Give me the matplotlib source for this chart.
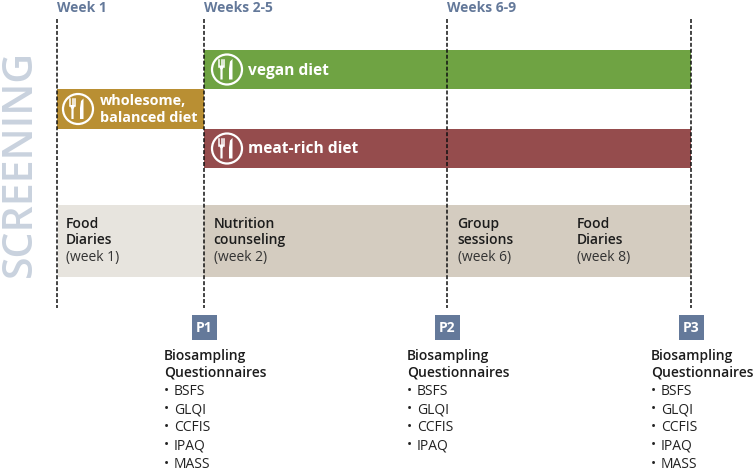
import matplotlib
matplotlib.use("Agg")
import matplotlib.pyplot as plt
from matplotlib.patches import Rectangle, Circle, Polygon

plt.rcParams['font.family'] = ['Open Sans', 'DejaVu Sans']

W, H = 755, 471
week_x = [57, 204, 447, 691]
week_labels = ["Week 1", "Weeks 2-5", "Weeks 6-9"]
week_label_x = [57, 204.5, 447]

diet_lines = [["vegan diet"], ["wholesome,", "balanced diet"], ["meat-rich diet"]]
diet_baselines = [[75], [105, 121.7], [153.3]]
diet_sizes = [11.2, 10.4, 11.2]
diet_x0 = [204, 57, 204]
diet_x1 = [691, 204, 691]
diet_y0 = [50, 89, 129]
diet_y1 = [89, 129, 168]
diet_colors = ["#6fa343", "#b98f33", "#954c4d"]
diet_icon_x = [227, 78, 227]
diet_text_x = [248, 99.5, 248]

activity_head = ["Food\nDiaries", "Nutrition\ncounseling", "Group\nsessions", "Food\nDiaries"]
activity_week = ["(week 1)", "(week 2)", "(week 6)", "(week 8)"]
activity_x = [66, 213.5, 457.5, 577]

point_labels = ["P1", "P2", "P3"]
point_x = [204, 447, 691]
point_lists = [["BSFS", "GLQI", "CCFIS", "IPAQ", "MASS"],
               ["BSFS", "GLQI", "CCFIS", "IPAQ"],
               ["BSFS", "GLQI", "CCFIS", "IPAQ", "MASS"]]

blue = "#64799a"
fig = plt.figure(figsize=(W / 100, H / 100), dpi=100)
ax = fig.add_axes([0, 0, 1, 1])
ax.set_xlim(0, W)
ax.set_ylim(H, 0)
ax.axis("off")

ax.add_patch(Rectangle((58, 205), 146, 72, fc="#e7e4de", ec="none", zorder=1))
ax.add_patch(Rectangle((204, 205), 487, 72, fc="#d4ccc0", ec="none", zorder=1))

for x0, x1, y0, y1, c in zip(diet_x0, diet_x1, diet_y0, diet_y1, diet_colors):
    ax.add_patch(Rectangle((x0, y0), x1 - x0, y1 - y0, fc=c, ec="none", zorder=2))

for x in week_x:
    ax.plot([x, x], [19, 308], color="#111111", lw=1.1, dashes=(2.6, 1.3), zorder=3)

for x, s in zip(week_label_x, week_labels):
    ax.text(x, 12, s, color=blue, fontsize=10, fontweight="bold", va="baseline", ha="left")

ax.text(20, 163.5, "SCREENING", color="#c9d2de", fontsize=29.5, rotation=90,
        ha="center", va="center", fontweight="semibold")


def icon(cx, cy):
    ax.add_patch(Circle((cx, cy), 15, fc="none", ec="white", lw=1.6, zorder=4))
    for dx in (-7.8, -5.5, -3.2):
        ax.plot([cx + dx, cx + dx], [cy - 10, cy - 3], color="white", lw=1.1, zorder=4)
    ax.add_patch(Polygon([(cx - 8.3, cy - 4), (cx - 2.7, cy - 4), (cx - 4.4, cy), (cx - 4.4, cy + 10),
                          (cx - 6.6, cy + 10), (cx - 6.6, cy)], fc="white", ec="none", zorder=4))
    ax.add_patch(Polygon([(cx + 2, cy + 10), (cx + 2, cy - 1), (cx + 3, cy - 8), (cx + 5.5, cy - 10.5),
                          (cx + 5.5, cy + 10)], fc="white", ec="none", zorder=4))


for ix, tx, y0, y1, lines, bases, fs in zip(diet_icon_x, diet_text_x, diet_y0, diet_y1,
                                            diet_lines, diet_baselines, diet_sizes):
    icon(ix, (y0 + y1) / 2)
    for s, b in zip(lines, bases):
        ax.text(tx, b, s, color="white", fontsize=fs, fontweight="bold", va="baseline", ha="left", zorder=5)

for x, h, w in zip(activity_x, activity_head, activity_week):
    a, b = h.split("\n")
    ax.text(x, 227.7, a, color="#1c1c1c", fontsize=10, fontweight="semibold", va="baseline")
    ax.text(x, 244, b, color="#1c1c1c", fontsize=10, fontweight="semibold", va="baseline")
    ax.text(x, 260.7, w, color="#333333", fontsize=10, va="baseline")

for x, p, items in zip(point_x, point_labels, point_lists):
    ax.add_patch(Rectangle((x - 12, 315), 25, 25, fc=blue, ec="none", zorder=2))
    ax.text(x + 0.5, 332, p, color="white", fontsize=10, fontweight="bold", ha="center", va="baseline", zorder=3)
    tx = x - 40
    ax.text(tx, 360, "Biosampling", color="#1c1c1c", fontsize=10, fontweight="semibold", va="baseline")
    ax.text(tx, 376.7, "Questionnaires", color="#1c1c1c", fontsize=10, fontweight="semibold", va="baseline")
    for i, it in enumerate(items):
        y = 394.8 + i * 18.2
        ax.text(tx, y, "•", color="#222222", fontsize=10, va="baseline")
        ax.text(tx + 10, y, it, color="#222222", fontsize=10, va="baseline")

fig.savefig("out.png", dpi=100, facecolor="white")
